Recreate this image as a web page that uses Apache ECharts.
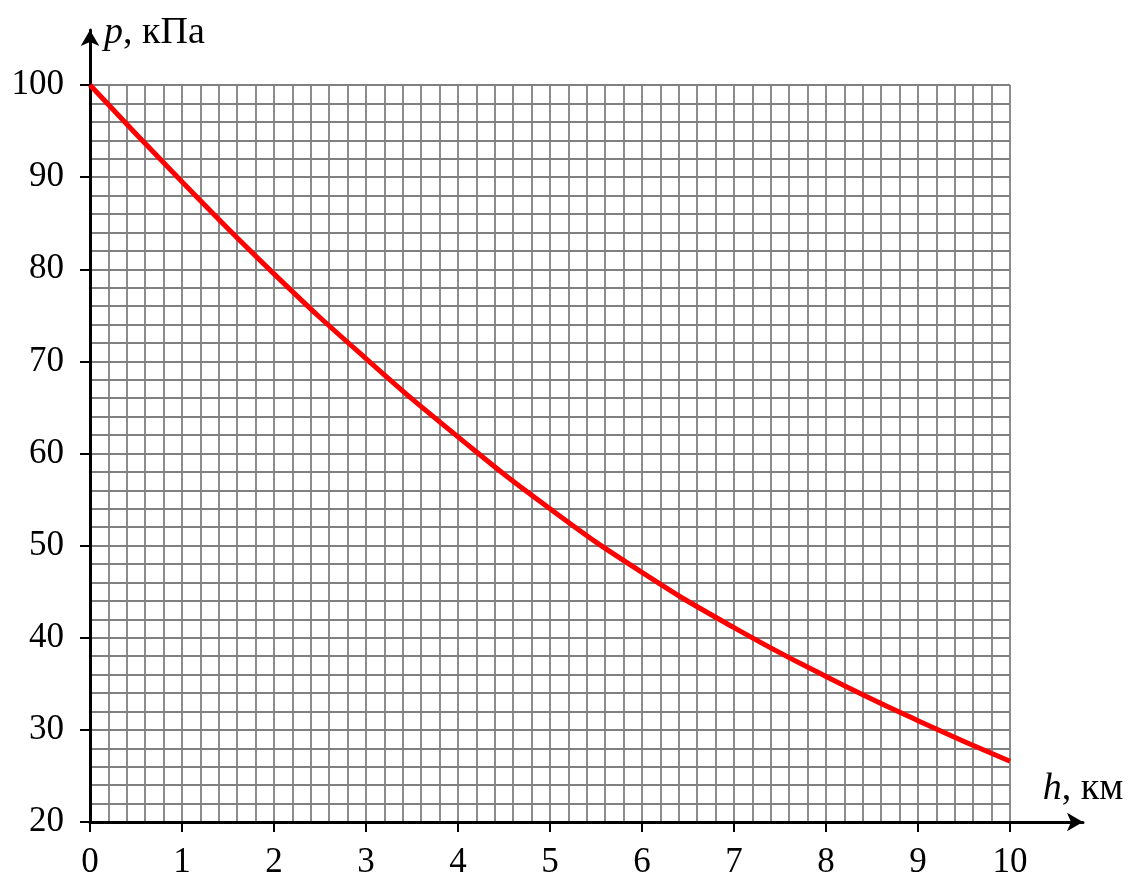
<!DOCTYPE html>
<html><head><meta charset="utf-8">
<script src="https://cdn.jsdelivr.net/npm/echarts@6/dist/echarts.min.js"></script>
<style>html,body{margin:0;padding:0;background:#fff}#c{width:1131px;height:872px}</style>
</head><body><div id="c"></div>
<script>
// Data
const heightsKm = [0, 1, 2, 3, 4, 5, 6, 7, 8, 9, 10];
const pressureKPa = [100, 89.5, 79.5, 70.3, 61.8, 54.0, 47.1, 41.1, 35.8, 31.0, 26.6];
const xRange = [0, 10, 1];      // min, max, interval
const yRange = [20, 100, 10];   // min, max, interval
const yAxisName = '{i|p}, кПа';
const xAxisName = '{i|h}, км';

const FONT = 'Liberation Serif';
const FS = 35;
const NFS = 38;
const gridColor = '#808080';

const chart = echarts.init(document.getElementById('c'), null, {renderer: 'canvas'});
const nameRich = {i: {fontStyle: 'italic', fontFamily: FONT, fontSize: NFS, color: '#000'}};

chart.setOption({
  animation: false,
  backgroundColor: '#fff',
  grid: [
    {left: 90, right: 121, top: 85, bottom: 50, containLabel: false, outerBoundsMode: 'none'},
    {left: 90, right: 48, top: 30, bottom: 50, containLabel: false, outerBoundsMode: 'none'}
  ],
  xAxis: [
    {
      gridIndex: 0, type: 'value', min: xRange[0], max: xRange[1], interval: xRange[2],
      axisLine: {show: false},
      axisTick: {show: true, inside: false, length: 10, lineStyle: {color: '#000', width: 2}},
      axisLabel: {color: '#000', fontFamily: FONT, fontSize: FS, margin: 23},
      splitLine: {show: true, lineStyle: {color: gridColor, width: 1.8}},
      minorTick: {show: false, splitNumber: 5},
      minorSplitLine: {show: true, lineStyle: {color: gridColor, width: 1.8}}
    },
    {
      gridIndex: 1, type: 'value', min: 0, max: 1, z: 5,
      axisLine: {show: true, onZero: false, symbol: ['none', 'arrow'], symbolSize: [14, 16], lineStyle: {color: '#000', width: 3}},
      axisTick: {show: false}, axisLabel: {show: false}, splitLine: {show: false},
      name: xAxisName, nameLocation: 'end', nameGap: 0,
      nameTextStyle: {fontFamily: FONT, fontSize: NFS, color: '#000', align: 'center', verticalAlign: 'bottom', padding: [0, 0, 14, 0], rich: nameRich}
    }
  ],
  yAxis: [
    {
      gridIndex: 0, type: 'value', min: yRange[0], max: yRange[1], interval: yRange[2],
      axisLine: {show: false},
      axisTick: {show: true, inside: false, length: 10, lineStyle: {color: '#000', width: 2}},
      axisLabel: {color: '#000', fontFamily: FONT, fontSize: FS, margin: 26},
      splitLine: {show: true, lineStyle: {color: gridColor, width: 1.8}},
      minorTick: {show: false, splitNumber: 5},
      minorSplitLine: {show: true, lineStyle: {color: gridColor, width: 1.8}}
    },
    {
      gridIndex: 1, type: 'value', min: 0, max: 1, z: 5,
      axisLine: {show: true, onZero: false, symbol: ['none', 'arrow'], symbolSize: [14, 16], lineStyle: {color: '#000', width: 3}},
      axisTick: {show: false}, axisLabel: {show: false}, splitLine: {show: false},
      name: yAxisName, nameLocation: 'end', nameGap: -3,
      nameTextStyle: {fontFamily: FONT, fontSize: NFS, color: '#000', align: 'left', verticalAlign: 'middle', padding: [0, 0, 0, 14], rich: nameRich}
    }
  ],
  series: [{
    type: 'line', xAxisIndex: 0, yAxisIndex: 0, z: 10,
    data: heightsKm.map((h, i) => [h, pressureKPa[i]]),
    smooth: true, showSymbol: false,
    lineStyle: {color: '#ff0000', width: 5}
  }]
});
</script>
</body></html>
